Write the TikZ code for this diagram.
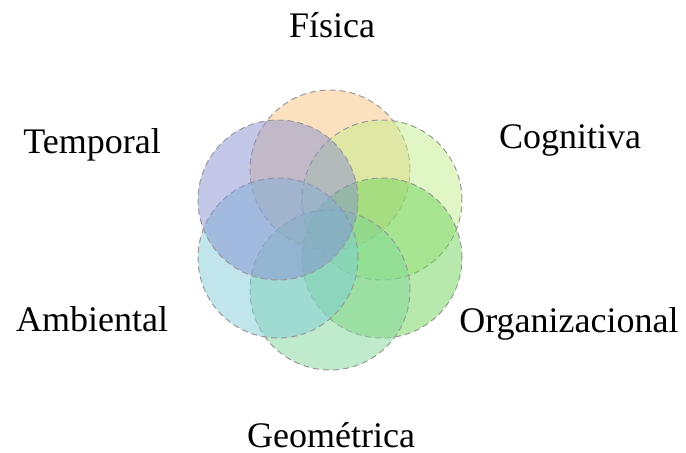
\documentclass[tikz,border=0pt]{standalone}
\usepackage{fontspec}
\setmainfont{Liberation Serif}
\usepackage{tikz}
\usetikzlibrary{calc}
\usepackage{xcolor}

\definecolor{fisicacol}{HTML}{F9C37E}
\definecolor{cognicol}{HTML}{C4EE8C}
\definecolor{orgacol}{HTML}{6FD35C}
\definecolor{geocol}{HTML}{80D79A}
\definecolor{ambicol}{HTML}{82CCD8}
\definecolor{tempocol}{HTML}{8790D2}

\tikzset{
  petal/.style={draw=gray!80, densely dashed, line width=0.5pt, fill opacity=0.5},
  tag/.style={anchor=base, inner sep=0pt, font=\fontsize{18}{22}\selectfont}
}

\begin{document}
\begin{tikzpicture}[x=0.5pt, y=-0.5pt]
  \useasboundingbox (0,0) rectangle (686,452);

  \coordinate (Fis) at (330,170);
  \coordinate (Cog) at (382,200);
  \coordinate (Org) at (382,258);
  \coordinate (Geo) at (330,290);
  \coordinate (Amb) at (278,258);
  \coordinate (Tem) at (278,200);

  \draw[petal, fill=fisicacol] (Fis) circle[radius=40pt];
  \draw[petal, fill=cognicol] (Cog) circle[radius=40pt];
  \draw[petal, fill=orgacol] (Org) circle[radius=40pt];
  \draw[petal, fill=geocol] (Geo) circle[radius=40pt];
  \draw[petal, fill=ambicol] (Amb) circle[radius=40pt];
  \draw[petal, fill=tempocol] (Tem) circle[radius=40pt];

  \node[tag] (fisica) at (332,37) {Física};
  \node[tag] (cognitiva) at (570,148) {Cognitiva};
  \node[tag] (temporal) at (92,153) {Temporal};
  \node[tag] (ambiental) at (92,331) {Ambiental};
  \node[tag] (organizacional) at (569,332) {Organizacional};
  \node[tag] (geometrica) at (331,447) {Geométrica};
\end{tikzpicture}
\end{document}
